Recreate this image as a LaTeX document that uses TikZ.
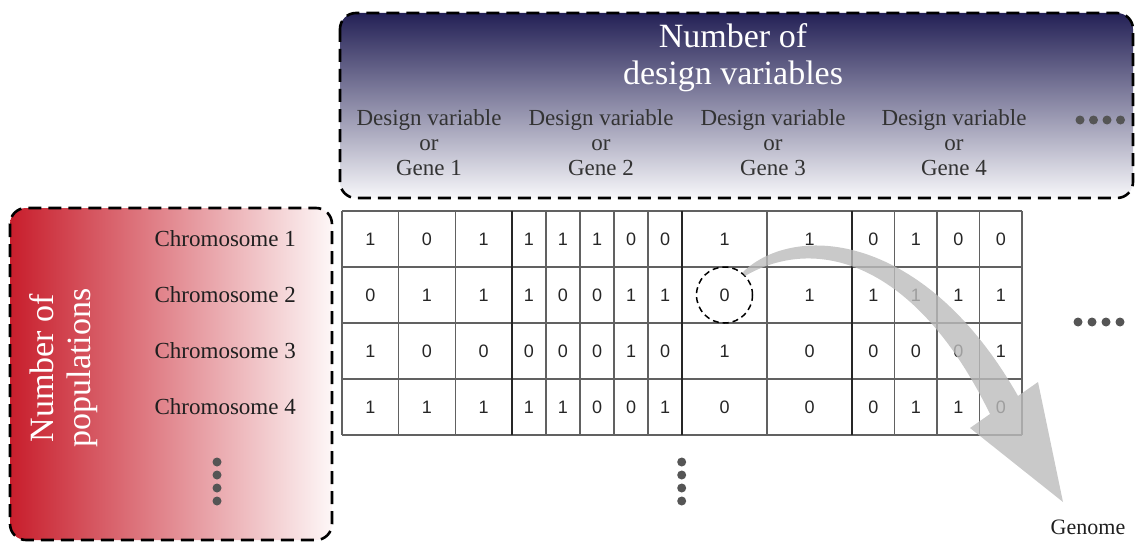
\documentclass[tikz,border=0pt]{standalone}
\usepackage{fontspec}
\setmainfont{Liberation Serif}
\newfontfamily\digitfont{Liberation Sans}
\definecolor{navytop}{RGB}{36,33,86}
\definecolor{palebottom}{RGB}{247,247,250}
\definecolor{redleft}{RGB}{200,30,44}
\definecolor{paleright}{RGB}{253,247,247}
\definecolor{arrowgray}{RGB}{188,188,188}
\definecolor{dotgray}{RGB}{85,85,85}
\begin{document}
\begin{tikzpicture}[x=1pt,y=-1pt,
  frame/.style={draw=black, line width=2.6pt, dash pattern=on 13pt off 7pt, rounded corners=16pt},
  cell/.style={font=\digitfont\fontsize{18}{18}\selectfont, text=black!85},
  chrom/.style={font=\fontsize{23}{25}\selectfont, text=black!88, anchor=east, inner sep=0pt},
  gene/.style={font=\fontsize{23}{25}\selectfont, text=black!80, align=center, inner sep=0pt},
  title/.style={font=\fontsize{34}{37}\selectfont, text=white, align=center, inner sep=0pt},
  dot/.style={circle, fill=dotgray, inner sep=0pt, minimum size=9pt},
  thin grid/.style={draw=black!62, line width=1.1pt},
  gene border/.style={draw=black!85, line width=1.7pt},
]
\useasboundingbox (0,0) rectangle (1136,543);

% header frame for the design variables
\path[frame, top color=navytop, bottom color=palebottom] (340,13) rectangle (1133,198);
\node[title] (ndv) at (733,58) {Number of\\design variables};
\node[gene] (g1) at (429,143) {Design variable\\or\\Gene 1};
\node[gene] (g2) at (601,143) {Design variable\\or\\Gene 2};
\node[gene] (g3) at (773,143) {Design variable\\or\\Gene 3};
\node[gene] (g4) at (954,143) {Design variable\\or\\Gene 4};
\foreach \i/\x in {1/1080,2/1093.5,3/1107,4/1120.5}
  \node[dot] (hd\i) at (\x,120) {};

% side frame for the population
\path[frame, left color=redleft, right color=paleright] (10,208) rectangle (332,540);
\node[title, rotate=90] (npop) at (64,368) {Number of\\populations};
\foreach \r/\y in {1/239,2/295,3/351,4/407}
  \node[chrom] (ch\r) at (296,\y) {Chromosome \r};
\foreach \i/\y in {1/462,2/475,3/488,4/501}
  \node[dot] (ld\i) at (217,\y) {};

% chromosome grid
\foreach \y in {211,267,323,379,435}
  \draw[thin grid] (342,\y) -- (1022,\y);
\foreach \x in {342,398.7,455.3,546,580,614,648,767,894.5,937,979.5,1022}
  \draw[thin grid] (\x,211) -- (\x,435);
\foreach \x in {512,682,852}
  \draw[gene border] (\x,211) -- (\x,435);

\def\rowvals{{{1,0,1,1,1,1,0,0,1,1,0,1,0,0},{0,1,1,1,0,0,1,1,0,1,1,1,1,1},{1,0,0,0,0,0,1,0,1,0,0,0,0,1},{1,1,1,1,1,0,0,1,0,0,0,1,1,0}}}
\foreach \r/\y in {1/239,2/295,3/351,4/407}
  \foreach \x [count=\k] in {370.3,427,483.7,529,563,597,631,665,724.5,809.5,873.25,915.75,958.25,1000.75} {
    \pgfmathtruncatemacro\v{\rowvals[\r-1][\k-1]}
    \node[cell] (c\r-\k) at (\x,\y) {\v};
  }

\foreach \i/\y in {1/462,2/475,3/488,4/501}
  \node[dot] (bd\i) at (681.7,\y) {};
\foreach \i/\x in {1/1078,2/1092,3/1106,4/1120}
  \node[dot] (rd\i) at (\x,322) {};

% selected gene and the curved arrow to the genome
\node[draw=black, circle, minimum size=56pt, line width=1.5pt, dash pattern=on 6pt off 4pt] (pick) at (724.5,295) {};
\fill[arrowgray, opacity=0.8]
  (743,272) .. controls (795,222) and (925,232) .. (1018,396)
  -- (1038,382) -- (1063,502) -- (970,428) -- (990,414)
  .. controls (915,260) and (815,235) .. (745,276) -- cycle;
\node[font=\fontsize{22}{24}\selectfont, text=black!88] (genome) at (1088,527) {Genome};
\end{tikzpicture}
\end{document}
